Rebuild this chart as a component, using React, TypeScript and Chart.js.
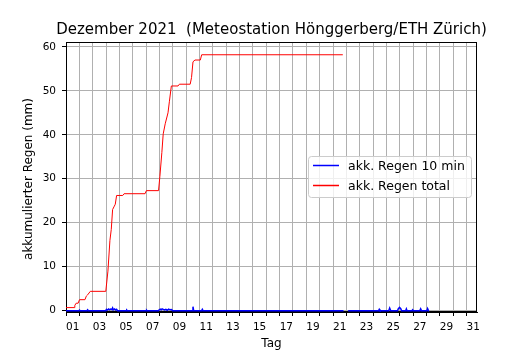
import React, { useEffect, useRef } from "react";
import { Chart, registerables } from "chart.js";

Chart.register(...registerables);

const titleText = "Dezember 2021  (Meteostation Hönggerberg/ETH Zürich)";
const yTitle = "akkumulierter Regen (mm)";
const xTitle = "Tag";
const legendLabels = ["akk. Regen 10 min", "akk. Regen total"];

// accumulated total (day of month, mm)
const totalDays = [1.0, 1.61, 1.66, 1.76, 1.91, 2.01, 2.42, 2.52, 2.62, 2.82, 3.98, 4.14, 4.29, 4.39, 4.49, 4.59, 4.69, 4.79, 5.25, 5.35, 6.92, 7.02, 7.93, 8.03, 8.18, 8.28, 8.43, 8.64, 8.74, 8.89, 9.39, 9.49, 10.3, 10.4, 10.51, 10.66, 11.06, 11.16, 21.73];
const totalVals = [0.7, 0.7, 1.2, 1.7, 1.7, 2.5, 2.5, 3.3, 3.6, 4.4, 4.4, 9.0, 16.0, 18.5, 23.0, 23.6, 24.2, 26.2, 26.2, 26.6, 26.6, 27.3, 27.3, 30.5, 36.0, 40.2, 42.5, 45.0, 47.5, 51.1, 51.1, 51.5, 51.5, 53.0, 56.6, 57.0, 57.0, 58.2, 58.2];

// 10 minute rain (day of month, mm); null = missing data
const tenMinDays = [1.0, 1.96, 2.01, 2.06, 2.57, 2.62, 2.67, 3.98, 4.03, 4.1, 4.19, 4.26, 4.34, 4.44, 4.49, 4.54, 4.64, 4.72, 4.79, 4.86, 5.5, 5.55, 5.6, 7.0, 7.04, 7.07, 7.93, 7.98, 8.06, 8.13, 8.2, 8.28, 8.38, 8.48, 8.58, 8.69, 8.79, 8.89, 8.99, 10.46, 10.51, 10.56, 11.16, 11.21, 11.26, 21.78, 21.8, 22.13, 24.41, 24.46, 24.51, 25.17, 25.24, 25.32, 25.83, 25.88, 25.98, 26.08, 26.13, 26.44, 26.49, 26.54, 26.91, 26.96, 27.01, 27.5, 27.56, 27.62, 28.02, 28.08, 28.15, 28.2];
const tenMinVals: (number | null)[] = [0, 0, 0.15, 0, 0, 0.2, 0, 0, 0.3, 0.15, 0.4, 0.2, 0.35, 0.25, 0.6, 0.2, 0.4, 0.15, 0.3, 0, 0, 0.15, 0, 0, 0.1, 0, 0, 0.2, 0.35, 0.2, 0.4, 0.3, 0.15, 0.3, 0.1, 0.35, 0.2, 0.25, 0, 0, 0.9, 0, 0, 0.3, 0, 0, null, 0, 0, 0.3, 0, 0, 0.6, 0, 0, 0.4, 0.75, 0.4, 0, 0, 0.4, 0, 0, 0.2, 0, 0, 0.4, 0, 0, 0.5, 0, 0];

const FONT = "'DejaVu Sans', sans-serif";

export default function App() {
  const ref = useRef<HTMLCanvasElement | null>(null);

  useEffect(() => {
    document.body.style.margin = "0";
    const canvas = ref.current;
    if (!canvas) return;

    const decor = {
      id: "decor",
      beforeDatasetsDraw(chart: any) {
        const ctx = chart.ctx as CanvasRenderingContext2D;
        const a = chart.chartArea;
        ctx.save();
        ctx.strokeStyle = "#000";
        ctx.lineWidth = 1;
        ctx.strokeRect(Math.round(a.left) + 0.5, Math.round(a.top) + 0.5, Math.round(a.right - a.left) - 1, Math.round(a.bottom - a.top) - 1);
        ctx.restore();
      },
      afterDraw(chart: any) {
        const ctx = chart.ctx as CanvasRenderingContext2D;
        const a = chart.chartArea;
        ctx.save();
        // title
        ctx.fillStyle = "#000";
        ctx.font = `15px ${FONT}`;
        ctx.textAlign = "center";
        ctx.textBaseline = "alphabetic";
        ctx.fillText(titleText, (a.left + a.right) / 2, 34);
        // x title
        ctx.font = `12px ${FONT}`;
        ctx.fillText(xTitle, (a.left + a.right) / 2, 347);
        // y title
        ctx.save();
        ctx.translate(32, (a.top + a.bottom) / 2 + 2);
        ctx.rotate(-Math.PI / 2);
        ctx.textBaseline = "alphabetic";
        ctx.fillText(yTitle, 0, 0);
        ctx.restore();
        // legend
        const lx = 308.5, ly = 156.5, lw = 163, lh = 41, r = 3;
        ctx.beginPath();
        ctx.moveTo(lx + r, ly);
        ctx.lineTo(lx + lw - r, ly);
        ctx.quadraticCurveTo(lx + lw, ly, lx + lw, ly + r);
        ctx.lineTo(lx + lw, ly + lh - r);
        ctx.quadraticCurveTo(lx + lw, ly + lh, lx + lw - r, ly + lh);
        ctx.lineTo(lx + r, ly + lh);
        ctx.quadraticCurveTo(lx, ly + lh, lx, ly + lh - r);
        ctx.lineTo(lx, ly + r);
        ctx.quadraticCurveTo(lx, ly, lx + r, ly);
        ctx.closePath();
        ctx.fillStyle = "rgba(255,255,255,0.8)";
        ctx.fill();
        ctx.strokeStyle = "#cccccc";
        ctx.stroke();
        const colors = ["#0000ff", "#ff0000"];
        const ys = [165.5, 185.5];
        ctx.font = `12.5px ${FONT}`;
        ctx.textAlign = "left";
        ctx.textBaseline = "middle";
        for (let i = 0; i < 2; i++) {
          ctx.strokeStyle = colors[i];
          ctx.lineWidth = 1.5;
          ctx.beginPath();
          ctx.moveTo(313, ys[i]);
          ctx.lineTo(339, ys[i]);
          ctx.stroke();
          ctx.fillStyle = "#000";
          ctx.fillText(legendLabels[i], 348, ys[i] + 1);
        }
        ctx.restore();
      },
    };

    const chart = new Chart(canvas, {
      type: "line",
      data: {
        datasets: [
          {
            label: legendLabels[0],
            data: tenMinDays.map((d, i) => ({ x: d, y: tenMinVals[i] as any })),
            borderColor: "#0000ff",
            backgroundColor: "#0000ff",
            borderWidth: 1.5,
            pointRadius: 0,
            tension: 0,
            spanGaps: false,
          },
          {
            label: legendLabels[1],
            data: totalDays.map((d, i) => ({ x: d, y: totalVals[i] })),
            borderColor: "#ff0000",
            backgroundColor: "#ff0000",
            borderWidth: 1,
            pointRadius: 0,
            tension: 0,
          },
        ],
      },
      plugins: [decor],
      options: {
        responsive: false,
        animation: false,
        devicePixelRatio: 1,
        layout: { padding: { top: 42, right: 53, left: 0, bottom: 0 } },
        plugins: { legend: { display: false }, title: { display: false }, tooltip: { enabled: false } },
        scales: {
          x: {
            type: "linear",
            min: 1,
            max: 31.78,
            afterFit: (s: any) => { s.height = 38; },
            ticks: {
              stepSize: 1,
              includeBounds: false,
              autoSkip: false,
              maxRotation: 0,
              padding: 5,
              labelOffset: 6.67,
              color: "#000",
              font: { family: FONT, size: 10.5 },
              callback: (v: any) => {
                const n = Math.round(Number(v));
                return n % 2 === 1 ? String(n).padStart(2, "0") : "";
              },
            },
            grid: { color: "#b0b0b0", lineWidth: 1, tickLength: 4, tickColor: "#000" },
            border: { display: true, color: "#000", width: 1 },
          },
          y: {
            type: "linear",
            min: -0.3,
            max: 61.1,
            afterFit: (s: any) => { s.width = 66; },
            ticks: {
              stepSize: 10,
              includeBounds: false,
              padding: 6,
              color: "#000",
              font: { family: FONT, size: 10.5 },
            },
            grid: { color: "#b0b0b0", lineWidth: 1, tickLength: 4, tickColor: "#000" },
            border: { display: true, color: "#000", width: 1 },
          },
        },
      },
    });
    return () => chart.destroy();
  }, []);

  return <canvas ref={ref} width={530} height={350} style={{ display: "block" }} />;
}
